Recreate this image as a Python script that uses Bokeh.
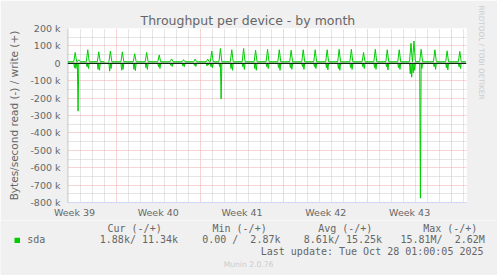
import math
from bokeh.plotting import figure
from bokeh.models import Range1d, FixedTicker, Span, Title
from bokeh.core.properties import value
from bokeh.embed import file_html
from bokeh.resources import INLINE

# ---------------- data (x = days since Mon 2025-09-22 00:00) ----------------
x_start, x_end = 2.917, 36.25
y_min, y_max = -800000, 200000

week_label_days = [3.5, 10.5, 17.5, 24.5, 31.5]
week_labels = ["Week 39", "Week 40", "Week 41", "Week 42", "Week 43"]
week_start_days = [7, 14, 21, 28, 35]
day_lines = [3, 4, 5, 6, 8, 9, 10, 11, 12, 13, 15, 16, 17, 18, 19, 20, 22, 23, 24,
             25, 26, 27, 29, 30, 31, 32, 33, 34, 36]

y_ticks = [200000, 100000, 0, -100000, -200000, -300000, -400000, -500000,
           -600000, -700000, -800000]
y_tick_labels = ["200 k", "100 k", "0", "-100 k", "-200 k", "-300 k", "-400 k",
                 "-500 k", "-600 k", "-700 k", "-800 k"]
y_minor = [150000, 50000, -50000, -150000, -250000, -350000, -450000, -550000,
           -650000, -750000]

write_base = 9000
event_days = [3.56, 3.86, 4.61, 5.53, 6.50, 7.50, 8.53, 9.53, 10.58, 11.61, 12.61,
              13.58, 14.63, 14.97, 15.69, 16.64, 17.63, 18.63, 19.63, 20.61, 21.60,
              22.61, 23.61, 24.61, 25.61, 26.63, 27.65, 28.63, 29.63, 30.63, 31.61,
              31.86, 32.46, 33.61, 34.63, 35.69]
write_peaks = [62000, 20000, 78000, 66000, 70000, 66000, 55000, 62000, 48000, 25000,
               21000, 24000, 24000, 70000, 85000, 78000, 85000, 75000, 80000, 78000,
               75000, 78000, 78000, 78000, 80000, 80000, 62000, 80000, 78000, 78000,
               115000, 128000, 80000, 78000, 72000, 68000]
read_before = [-25000, -275000, -20000, -35000, -45000, -40000, -35000, -25000, -20000,
               -12000, -15000, -12000, -15000, -20000, -20000, -30000, -20000, -30000,
               -20000, -25000, -25000, -20000, -20000, -25000, -30000, -25000, -20000,
               -25000, -20000, -25000, -60000, -55000, -775000, -20000, -25000, -20000]
read_after = [-30000, 0, -30000, -40000, -30000, -35000, -42000, -35000, -30000,
              -18000, -20000, -18000, -10000, -25000, -205000, -40000, -35000, -40000,
              -30000, -40000, -35000, -35000, -30000, -38000, -40000, -35000, -30000,
              -35000, -38000, -35000, -80000, -40000, -30000, -35000, -38000, -30000]
write_gap = (6.0, 6.15, 6.33)

legend_headers = ["Cur (-/+)", "Min (-/+)", "Avg (-/+)", "Max (-/+)"]
legend_name = "sda"
legend_values = ["1.88k/ 11.34k", "0.00 /  2.87k", "8.61k/ 15.25k", "15.81M/  2.62M"]
last_update = "Last update: Tue Oct 28 01:00:05 2025"

# ---------------- build polylines ----------------
W = 0.12
wpts = [(x_start, write_base), (x_end - 0.05, write_base),
        (write_gap[0], write_base), (write_gap[1], float("nan")), (write_gap[2], write_base)]
rpts = [(x_start, 0), (x_end - 0.05, 0)]
for d, wp, rb, ra in zip(event_days, write_peaks, read_before, read_after):
    wpts += [(d - W, write_base), (d, wp), (d + W, write_base)]
    rpts += [(d - W, 0), (d - W / 2, rb), (d, 0), (d + W / 2, ra), (d + W, 0)]
wpts.sort(key=lambda p: p[0])
rpts.sort(key=lambda p: p[0])

GREEN = "#00CC00"
AXIS = "#CFD6F8"
FONT = "#666666"
BACK = "#F0F0F0"


def nb(s):
    return s.replace(" ", "\u00a0")


p = figure(width=497, height=220, output_backend="svg", toolbar_location=None,
           x_range=Range1d(x_start, x_end), y_range=Range1d(y_min, y_max),
           min_border_left=67, min_border_right=30, min_border_top=28,
           min_border_bottom=17)
p.border_fill_color = BACK
p.background_fill_color = "#FFFFFF"
p.outline_line_color = None

p.title.text = "Throughput per device - by month"
p.title.align = "left"
p.title.offset = 73
p.title.standoff = 2
p.title.text_font = "DejaVu Sans"
p.title.text_font_size = "12.5px"
p.title.text_font_style = "normal"
p.title.text_color = FONT

p.add_layout(Title(text="RRDTOOL / TOBI OETIKER", align="left", offset=-23,
                   standoff=20, text_font="DejaVu Sans", text_font_size="7.3px",
                   text_font_style="normal", text_color="#CCCCCC"), "right")

# axes
p.xaxis.ticker = FixedTicker(ticks=week_label_days)
p.xaxis.major_label_overrides = {d: l for d, l in zip(week_label_days, week_labels)}
p.yaxis.ticker = FixedTicker(ticks=y_ticks)
p.yaxis.major_label_overrides = {v: l for v, l in zip(y_ticks, y_tick_labels)}
for ax in (p.xaxis[0], p.yaxis[0]):
    ax.axis_line_color = AXIS
    ax.major_tick_line_color = None
    ax.minor_tick_line_color = None
    ax.major_tick_out = 0
    ax.major_tick_in = 0
    ax.minor_tick_out = 0
    ax.minor_tick_in = 0
    ax.major_label_text_font = "DejaVu Sans"
    ax.major_label_text_font_size = "9.5px"
    ax.major_label_text_color = FONT
p.xaxis.major_label_standoff = 4
p.yaxis.major_label_standoff = 7
p.yaxis.axis_label = "Bytes/second read (-) / write (+)"
p.yaxis.axis_label_text_font = "DejaVu Sans"
p.yaxis.axis_label_text_font_size = "10.5px"
p.yaxis.axis_label_text_font_style = "normal"
p.yaxis.axis_label_text_color = FONT
p.yaxis.axis_label_standoff = 7

# grids
p.xgrid[0].ticker = FixedTicker(ticks=week_start_days, minor_ticks=day_lines)
p.ygrid[0].ticker = FixedTicker(ticks=y_ticks, minor_ticks=y_minor)
for g in (p.xgrid[0], p.ygrid[0]):
    g.grid_line_color = "#F0A8A8"
    g.grid_line_dash = "1 1"
    g.grid_line_width = 1
    g.minor_grid_line_color = "#CCCCCC"
    g.minor_grid_line_dash = "1 1"

# data
p.line([q[0] for q in rpts], [q[1] for q in rpts], line_color=GREEN, line_width=1)
p.line([q[0] for q in wpts], [q[1] for q in wpts], line_color=GREEN, line_width=1)
p.add_layout(Span(location=0, dimension="width", line_color="black", line_width=1))

# ---------------- legend strip (pixel coordinates of the page) ----------------
lg = figure(width=497, height=55, output_backend="svg", toolbar_location=None,
            x_range=Range1d(0, 497), y_range=Range1d(275, 220),
            min_border_left=0, min_border_right=0, min_border_top=0,
            min_border_bottom=0, x_axis_location=None, y_axis_location=None)
lg.border_fill_color = BACK
lg.background_fill_color = BACK
lg.outline_line_color = None
lg.grid.visible = False

MONO = "DejaVu Sans Mono"
lg.text(x=[107, 212, 317.7, 422.7], y=[227.7] * 4, text=[nb(t) for t in legend_headers],
        text_font=value(MONO), text_font_size="10px", text_color=FONT,
        text_baseline="middle", text_align="left")
lg.text(x=[26.7, 99.3, 201.7, 303.3, 400], y=[239.3] * 5,
        text=[nb(t) for t in [legend_name] + legend_values],
        text_font=value(MONO), text_font_size="10px", text_color=FONT,
        text_baseline="middle", text_align="left")
lg.text(x=[483], y=[251], text=[nb(last_update)],
        text_font=value(MONO), text_font_size="10px", text_color=FONT,
        text_baseline="middle", text_align="right")
lg.text(x=[248], y=[264], text=[nb("Munin 2.0.76")],
        text_font=value("DejaVu Sans"), text_font_size="7.6px", text_color="#CCCCCC",
        text_baseline="middle", text_align="center")
lg.quad(left=[14], right=[19.5], top=[237.2], bottom=[242.6], fill_color=GREEN,
        line_color=None)

open("out.html", "w").write(file_html([p, lg], INLINE))
